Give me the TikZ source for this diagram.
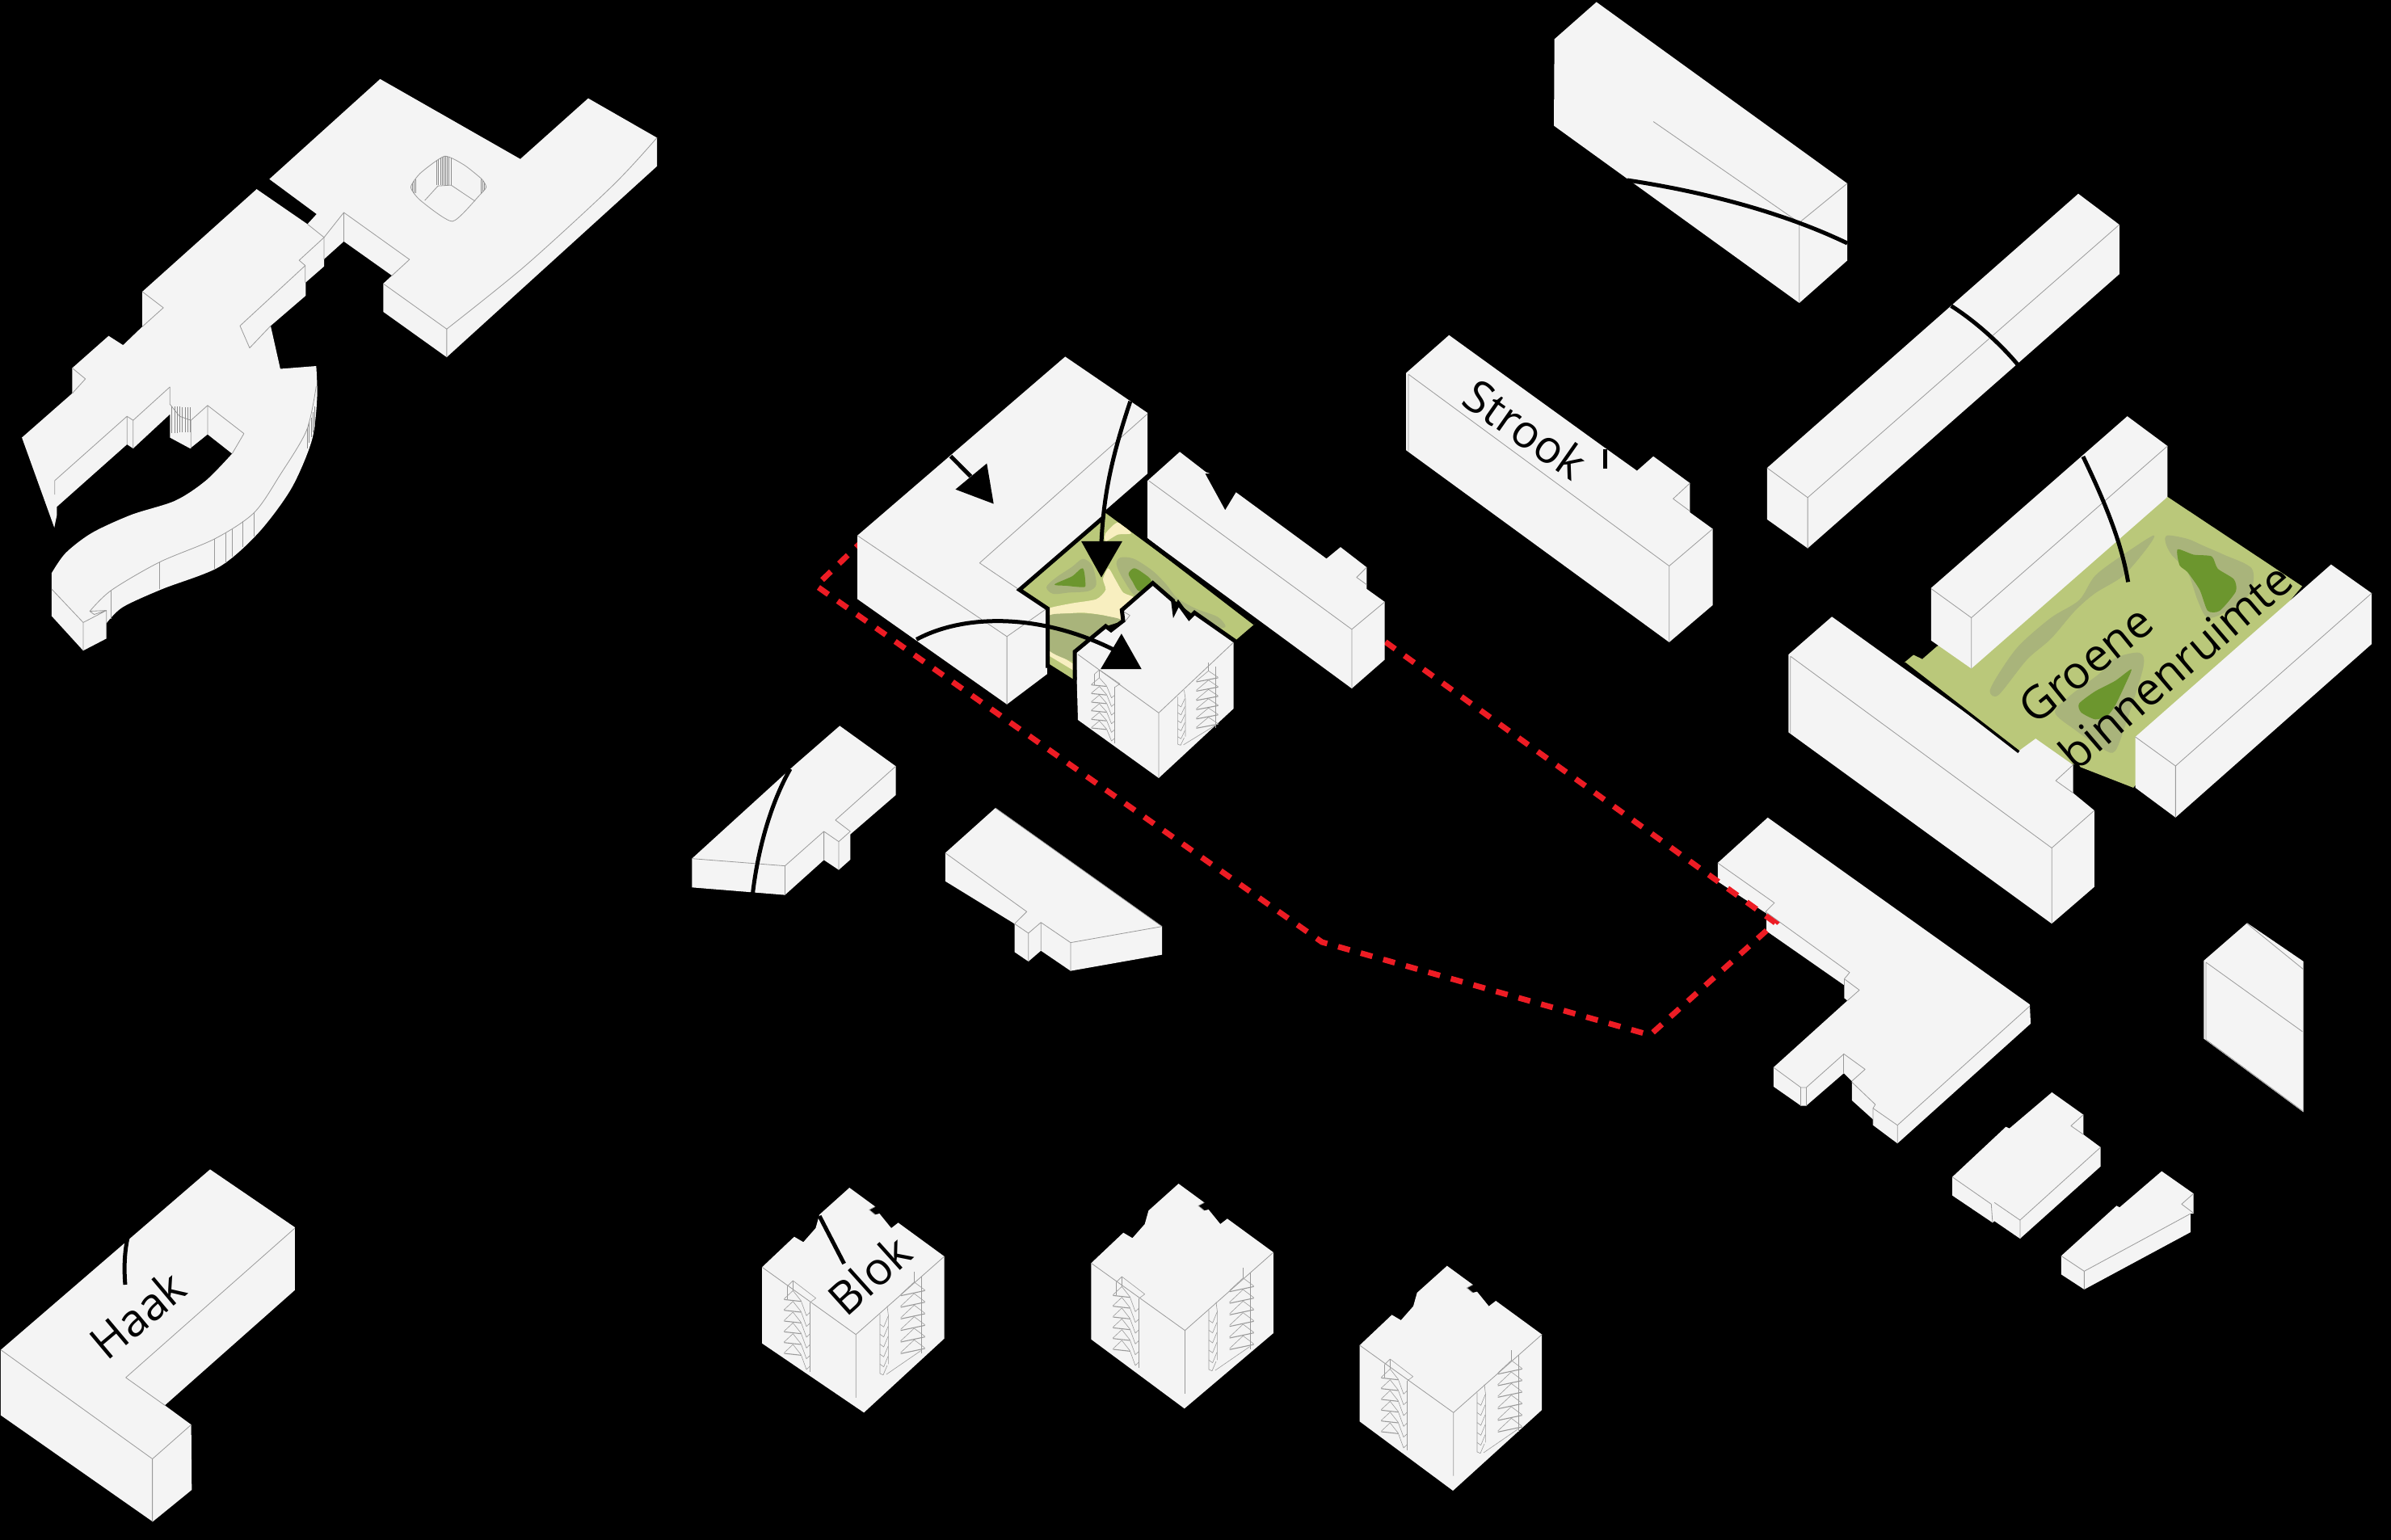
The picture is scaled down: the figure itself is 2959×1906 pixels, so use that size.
\documentclass[tikz,border=0pt]{standalone}
\usepackage{fontspec}
\setmainfont{Open Sans}
\definecolor{bfill}{HTML}{F4F4F4}
\definecolor{lgray}{HTML}{9A9A9A}
\definecolor{gbase}{HTML}{BAC87A}
\definecolor{gmid}{HTML}{A9B47B}
\definecolor{gdark}{HTML}{6C962E}
\definecolor{gcream}{HTML}{F8EFC0}
\definecolor{rdash}{HTML}{ED1C24}
\tikzset{
  bld/.style={fill=bfill,draw=none},
  ln/.style={draw=lgray,line width=0.8pt,line join=round},
  sln/.style={draw=lgray,line width=0.6pt,line join=round},
  dl/.style={draw=black!45,line width=0.4pt},
  thick black/.style={draw=black,line width=5pt,line join=miter},
  callout/.style={draw=black,line width=5pt},
  arrowtri/.style={fill=black,draw=none},
  lbl/.style={font=\fontsize{56}{56}\selectfont,text=black,inner sep=0pt},
  z1/.style={shift={(0,60)},xscale=.542,yscale=.4975},
  z2/.style={shift={(980,420)},xscale=.4974,yscale=.3571},
  z3/.style={shift={(2180,500)},xscale=.4974,yscale=.4337},
  z4/.style={shift={(900,1440)},xscale=.6633,yscale=.3333},
  z5/.style={shift={(1680,0)},xscale=.6122,yscale=.5102},
  z6/.style={shift={(2100,1000)},xscale=.5478,yscale=.3954},
  z7/.style={shift={(840,880)},xscale=.4082,yscale=.3333},
  z8/.style={shift={(0,1420)},scale=.3333},
  z11/.style={shift={(1240,640)},scale=.3333},
}
% stair details, in coordinates of a 3x crop
\newcommand{\stairset}{%
  \draw[sln] (65,80)--(85,60)--(170,125)--(150,140);
  \draw[sln] (65,80)--(65,130) (85,60)--(85,97) (148,140)--(148,400);
  \foreach \k in {0,...,5}{
    \draw[sln] (52,128+40*\k)--(85,97+40*\k)--(115,135+40*\k);
    \draw[ln,line width=1.1pt] (52,130+40*\k)--(115,137+40*\k);
    \draw[sln] (115,135+40*\k)--(135,190+40*\k)--(148,178+40*\k);
  }
  \draw[sln] (535,28)--(535,65) (563,45)--(563,330);
  \foreach \k in {0,...,5}{
    \draw[sln] (485,112+43*\k)--(535,65+43*\k)--(575,95+43*\k);
    \draw[ln,line width=1.1pt] (485,116+43*\k)--(575,97+43*\k);
  }
  \draw[sln] (435,155)--(440,195)--(440,370) (408,185)--(408,405)--(420,410)--(435,375) (432,408)--(560,320);
  \foreach \k in {0,...,4}{
    \draw[sln] (408,222+37*\k)--(422,232+37*\k)--(438,193+37*\k);
  }
}
% a "blok" building, in coordinates of zoom 4
\newcommand{\blokbody}[2]{%
  \fill[bld] (228,90)--(276,160)--(265,172)--(276,190)--(284,186)--(306,240)--(319,220)--(405,345)--(405,#2)--(#1,925)--(65,668)--(65,385)--(125,272)--(142,292)--(165,240)--(172,190)--cycle;
  \draw[ln] (65,385)--(240,635)--(240,870) (240,635)--(405,345);
  \draw[ln] (276,160)--(265,172)--(276,190);
}
\begin{document}
\begin{tikzpicture}[x=1pt,y=-1pt]
\fill[black] (0,0) rectangle (2959,1906);
\useasboundingbox (0,0) rectangle (2959,1906);

% --- building at bottom right of the red line, under the red line
\begin{scope}[z6]
  \fill[bld] (160,30)--(752,615)--(754,675)--(453,1050)--(398,993)--(398,975)--(350,915)--(350,855)--(332,830)--(247,932)--(235,932)--(173,872)--(173,812)--(340,603)--(333,595)--(333,555)--(157,385)--(157,330)--(47,230)--(47,172)--cycle;
  \draw[ln] (47,172)--(175,297)--(155,325)--(345,515)--(333,535)--(367,570)--(340,603);
  \draw[ln] (173,812)--(235,875)--(247,875)--(332,770)--(380,818)--(350,855);
  \draw[ln] (332,770)--(332,830) (235,875)--(235,932) (247,875)--(247,932);
  \draw[ln] (350,858)--(403,928)--(398,940)--(453,993)--(453,1050);
  \draw[ln] (453,993)--(752,620) (398,940)--(398,993) (333,535)--(333,595);
\end{scope}

% --- red dashed boundary
\coordinate (ra) at (1070,667);
\coordinate (rb) at (1010,725);
\coordinate (rc) at (1636,1166);
\coordinate (rd) at (2042,1281);
\coordinate (re) at (2197,1142);
\coordinate (rf) at (1700,784);
\draw[draw=rdash,line width=7pt,dash pattern=on 15pt off 14pt] (ra)--(rb)--(rc)--(rd)--(re)--(rf);

% --- top-left complex
\begin{scope}[z1]
  \fill[bld] (868,76)--(1188,275)--(1343,124)--(1500,222)--(1500,293)--(1020,768)--(875,655)--(875,585)--(895,565)--(785,480)--(740,524)--(740,542)--(698,582)--(698,615)--(618,690)--(640,797)--(722,790)
    -- plot[smooth] coordinates {(722,790)(724,870)(712,975)(665,1095)(590,1205)(500,1290)(370,1345)(280,1390)(243,1430)}
    --(243,1468)--(190,1498)--(118,1412)--(118,1305)
    -- plot[smooth] coordinates {(118,1305)(150,1255)(210,1205)(300,1160)(400,1125)(470,1075)(530,1008)}
    --(474,960)--(434,995)--(388,968)--(388,910)--(304,995)--(290,985)--(130,1140)--(130,1160)--(124,1192)--(50,968)--(165,858)--(165,795)--(248,715)--(281,738)--(325,692)--(325,605)--(586,350)--(702,437)--(723,412)--(615,325)--cycle;
  \draw[ln] (875,585)--(1020,698)--(1020,768);
  \draw[ln] plot[smooth] coordinates {(1020,698)(1200,540)(1400,340)(1500,222)};
  \draw[ln] (740,470)--(785,408)--(935,525)--(895,565) (785,408)--(785,480) (740,470)--(740,525);
  \draw[ln] (702,437)--(740,470)--(683,527)--(697,540)--(548,690)--(570,745)--(618,690) (697,540)--(697,582);
  \draw[ln] (325,605)--(373,645)--(325,692) (165,795)--(195,822)--(165,858);
  \draw[ln] (388,842)--(304,925)--(290,915)--(125,1075)--(125,1110) (290,915)--(290,985) (304,925)--(304,995);
  \draw[ln] (388,842)--(388,885)--(410,915)--(436,925)--(474,888)--(557,958)--(530,1008) (474,888)--(474,960) (436,925)--(436,995);
  \foreach \hx in {392,398,...,434}{\draw[dl] (\hx,888+\hx/14-26)--(\hx,985-\hx/14);}
  \draw[ln] plot[smooth] coordinates {(722,840)(700,950)(640,1060)(580,1155)(490,1220)(364,1278)(254,1348)(205,1400)};
  \draw[ln] (254,1348)--(254,1420) (364,1278)--(364,1345) (490,1220)--(490,1295) (515,1205)--(515,1280) (530,1195)--(530,1265) (555,1175)--(555,1240) (580,1155)--(580,1215);
  \foreach \hx in {702,706,...,718}{\draw[dl] (\hx,{945-(\hx-702)*3.4})--(\hx,{995-(\hx-702)*3.4});}
  \draw[ln] (118,1345)--(190,1428)--(190,1498) (190,1428)--(243,1398)--(205,1400)--(215,1408)--(243,1398)--(243,1468);
  \draw[ln] plot[smooth cycle,tension=.35] coordinates {(1015,268)(1060,290)(1100,325)(1110,345)(1095,365)(1033,430)(960,378)(938,345)(960,310)};
  \begin{scope}
    \clip plot[smooth cycle,tension=.35] coordinates {(1015,268)(1060,290)(1100,325)(1110,345)(1095,365)(1033,430)(960,378)(938,345)(960,310)};
    \foreach \hx in {997,1001,...,1030}{\draw[dl] (\hx,262)--(\hx,340);}
    \foreach \hx in {1098,1102,1106}{\draw[dl] (\hx,325)--(\hx,360);}
    \foreach \hx in {941,945,949}{\draw[dl] (\hx,325)--(\hx,360);}
  \end{scope}
  \draw[ln] (970,378)--(1000,342)--(1030,340)--(1085,380);
\end{scope}

% --- central green court
\begin{scope}[z11]
  \begin{scope}
    \clip (385,-15)--(940,395)--(870,455)--(700,355)--(560,245)--(445,345)--(450,385)--(385,405)--(270,505)--(270,605)--(175,545)--(170,335)--(65,270)--cycle;
    \fill[gbase] (0,-20) rectangle (1000,620);
    \fill[gcream] plot[smooth cycle,tension=.4] coordinates {(430,20)(480,60)(430,65)(385,90)(385,60)};
    \fill[gcream] plot[smooth cycle,tension=.4] coordinates {(170,340)(260,320)(350,305)(385,270)(375,230)(395,190)(420,230)(450,280)(490,300)(445,345)(445,385)(380,365)(300,355)(220,360)(170,372)};
    \fill[gcream] (170,487)--(270,548)--(270,572)--(170,512)--cycle;
    \fill[gmid] plot[smooth cycle,tension=.5] coordinates {(165,260)(200,225)(260,185)(300,155)(335,180)(350,250)(320,275)(250,280)(190,285)};
    \fill[gmid] plot[smooth cycle,tension=.5] coordinates {(425,175)(440,150)(490,155)(560,200)(610,250)(650,300)(720,340)(800,370)(830,405)(800,410)(700,365)(560,250)(500,295)(450,230)};
    \fill[gmid] plot[smooth cycle,tension=.4] coordinates {(170,370)(250,358)(340,360)(440,380)(385,410)(320,450)(275,500)(265,535)(170,490)};
    \fill[gdark] plot[smooth cycle,tension=.5] coordinates {(195,250)(260,220)(300,190)(310,250)(300,260)(240,255)};
    \fill[gdark] plot[smooth cycle,tension=.5] coordinates {(470,210)(490,190)(520,205)(555,238)(510,275)(485,240)};
  \end{scope}
\end{scope}

% --- large L building
\begin{scope}[z2]
  \fill[bld] (680,60)--(885,255)--(885,465)--(782,590)--(775,610)--(568,870)--(635,935)--(635,1160)--(535,1265)--(163,900)--(163,680)--cycle;
  \draw[ln] (163,680)--(535,1030)--(535,1265) (535,1030)--(632,935);
  \draw[ln] (885,258)--(467,775)--(568,870);
  % right building
  \fill[bld] (965,390)--(1030,460)--(1040,465)--(1028,465)--(1078,592)--(1105,530)--(1330,760)--(1365,720)--(1430,790)--(1430,865)--(1475,910)--(1475,1110)--(1393,1210)--(885,690)--(885,490)--cycle;
  \draw[ln] (888,490)--(1393,1005)--(1393,1210) (1393,1005)--(1475,910) (1430,790)--(1405,825)--(1430,850);
\end{scope}

% --- small block on the court
\begin{scope}[z11]
  \fill[bld] (275,505)--(385,412)--(405,425)--(455,390)--(450,350)--(560,252)--(635,315)--(645,350)--(655,325)--(695,380)--(715,360)--(860,465)--(860,711)--(582,969)--(282,753)--cycle;
  \draw[ln] (282,510)--(582,727)--(582,969) (582,727)--(860,465) (450,350)--(475,365)--(455,390) (630,320)--(645,335);
  \draw[thick black] (378,0)--(65,270)--(170,340)--(170,560);
  \draw[thick black] (530,80)--(940,395);
  \draw[thick black] (270,605)--(270,500)--(385,405)--(405,420)--(450,385)--(445,345)--(560,245)--(635,310)--(640,350)--(655,320)--(695,375)--(715,355)--(865,460);
\end{scope}
\begin{scope}[shift={(1335,813)},xscale=.3,yscale=.2667]
  \stairset
\end{scope}

% --- central arrows
\begin{scope}[z2]
  \coordinate (a1s) at (395,405);
  \coordinate (a1e) at (445,475);
  \draw[callout] (a1s)--(a1e);
  \fill[arrowtri] (485,430)--(502,570)--(407,520)--cycle;
  \coordinate (a2s) at (842,215);
  \coordinate (a2e) at (770,705);
  \draw[callout] (a2s) .. controls (790,430) and (775,560) .. (a2e);
  \fill[arrowtri] (720,700)--(822,700)--(770,825)--cycle;
  \coordinate (a3s) at (310,1040);
  \coordinate (a3e) at (800,1075);
  \draw[callout] (a3s) .. controls (430,950) and (620,950) .. (a3e);
  \fill[arrowtri] (820,1020)--(870,1143)--(768,1143)--cycle;
\end{scope}

% --- top right buildings
\begin{scope}[z5]
  \fill[bld] (483,5)--(990,445)--(990,632)--(893,735)--(397,305)--(398,95)--cycle;
  \draw[ln] (990,445)--(893,540)--(893,735) (893,540)--(598,295);
  \coordinate (c1s) at (545,437);
  \coordinate (c1e) at (990,590);
  \draw[callout] (c1s) .. controls (700,465) and (860,515) .. (c1e);
  \fill[bld] (1457,470)--(1540,545)--(1540,665)--(910,1330)--(828,1260)--(828,1135)--cycle;
  \draw[ln] (828,1135)--(910,1207)--(910,1330) (910,1207)--(1540,545);
  \coordinate (c2s) at (1200,742);
  \coordinate (c2e) at (1335,885);
  \draw[callout] (c2s) .. controls (1250,780) and (1300,835) .. (c2e);
  \fill[bld] (185,813)--(495,1082)--(565,1142)--(598,1107)--(672,1172)--(672,1243)--(718,1283)--(718,1468)--(630,1558)--(98,1092)--(98,905)--cycle;
  \draw[ln] (103,908)--(630,1373)--(630,1558) (630,1373)--(718,1283) (672,1172)--(638,1210)--(672,1240) (103,908)--(103,1095);
  \coordinate (c3s) at (500,1090);
  \coordinate (c3e) at (500,1137);
  \draw[callout] (c3s)--(c3e);
\end{scope}

% --- green inner space, right
\begin{scope}[z3]
  \begin{scope}
    \clip (355,738)--(378,716)--(400,728)--(435,693)--(1010,265)--(1345,520)--(925,1095)--(775,1028)--(640,990)--cycle;
    \fill[gbase] (300,200) rectangle (1400,1150);
    \fill[gmid] plot[smooth cycle,tension=.5] coordinates {(975,375)(960,410)(900,490)(830,540)(780,590)(720,670)(660,730)(590,830)(568,820)(590,770)(640,690)(720,610)(790,560)(830,490)(900,430)};
    \fill[gmid] plot[smooth cycle,tension=.5] coordinates {(1010,375)(1060,385)(1100,405)(1150,430)(1220,470)(1215,540)(1160,590)(1110,610)(1085,560)(1060,480)(1020,430)(1005,395)};
    \fill[gdark] plot[smooth cycle,tension=.4] coordinates {(1035,415)(1075,430)(1120,435)(1135,470)(1175,500)(1180,535)(1140,590)(1110,590)(1090,530)(1060,480)(1040,460)};
    \fill[gmid] plot[smooth cycle,tension=.5] coordinates {(880,725)(940,710)(950,750)(910,900)(880,990)(850,985)(780,930)(730,880)(770,830)(840,770)};
    \fill[gdark] plot[smooth cycle,tension=.4] coordinates {(920,757)(905,800)(880,860)(860,890)(830,900)(795,880)(790,855)(830,820)(880,790)};
  \end{scope}
  \fill[bld] (910,35)--(1010,120)--(1010,265)--(522,755)--(422,675)--(422,525)--cycle;
  \draw[ln] (422,527)--(522,610)--(522,755) (522,610)--(1010,120);
  \fill[bld] (1417,458)--(1518,540)--(1518,685)--(1030,1180)--(930,1095)--(930,950)--cycle;
  \draw[ln] (930,950)--(1030,1033)--(1030,1180) (1030,1033)--(1518,540);
  \fill[bld] (175,607)--(640,990)--(682,955)--(775,1030)--(775,1110)--(828,1160)--(828,1378)--(722,1483)--(67,937)--(67,715)--cycle;
  \draw[ln] (72,720)--(722,1267)--(722,1483) (722,1267)--(828,1160) (775,1030)--(732,1075)--(775,1110) (72,720)--(72,940);
  \draw[thick black,line width=3.5pt] (355,740)--(640,993);
  \coordinate (c4s) at (800,150);
  \coordinate (c4e) at (912,508);
  \draw[callout] (c4s) .. controls (850,270) and (895,390) .. (c4e);
\end{scope}

% --- right side small buildings
\begin{scope}[z6]
  \fill[bld] (802,890)--(873,960)--(873,1022)--(912,1062)--(912,1122)--(730,1348)--(672,1293)--(668,1298)--(577,1213)--(577,1155)--(698,998)--(706,1003)--cycle;
  \draw[ln] (577,1155)--(665,1240)--(668,1298) (672,1235)--(730,1290)--(730,1348) (730,1290)--(912,1062) (873,960)--(845,995)--(873,1022);
  \fill[bld] (1050,1137)--(1122,1207)--(1122,1270)--(1115,1270)--(1115,1328)--(875,1507)--(823,1460)--(823,1402)--(948,1245)--(955,1250)--cycle;
  \draw[ln] (823,1402)--(875,1450)--(875,1507) (875,1450)--(1115,1270) (1122,1207)--(1095,1240)--(1122,1268);
  \fill[bld] (1243,360)--(1370,480)--(1370,952)--(1145,722)--(1145,478)--cycle;
  \draw[ln] (1150,483)--(1368,700) (1243,362)--(1370,505) (1150,483)--(1150,725)--(1368,948) (1145,722)--(1145,478);
\end{scope}

% --- lower middle buildings
\begin{scope}[z7]
  \fill[bld] (488,55)--(658,205)--(658,312)--(520,458)--(520,552)--(485,590)--(440,553)--(322,683)--(40,655)--(40,548)--(352,200)--cycle;
  \draw[ln] (40,548)--(322,575)--(322,683) (322,575)--(440,447)--(440,553) (440,447)--(485,485)--(485,590) (485,485)--(520,447)--(475,405)--(658,205);
  \coordinate (c5s) at (338,215);
  \coordinate (c5e) at (224,680);
  \draw[callout] (c5s) .. controls (280,340) and (240,510) .. (c5e);
  \fill[bld] (960,360)--(1465,800)--(1465,905)--(1188,965)--(1098,890)--(1060,930)--(1018,895)--(1018,790)--(808,632)--(808,527)--cycle;
  \draw[ln] (808,527)--(1055,745)--(1018,790)--(1060,825)--(1060,930) (1060,825)--(1098,785)--(1098,890) (1098,785)--(1188,860)--(1188,965) (1188,860)--(1465,800);
  \draw[ln] (960,360)--(1465,800);
\end{scope}

% --- Haak
\begin{scope}[z8]
  \fill[bld] (780,82)--(1095,297)--(1095,530)--(612,958)--(710,1030)--(712,1272)--(567,1390)--(3,995)--(3,752)--cycle;
  \draw[ln] (3,752)--(566,1157)--(566,1390) (566,1157)--(710,1030) (1095,300)--(467,855)--(612,958);
  \coordinate (c6s) at (474,335);
  \coordinate (c6e) at (465,510);
  \draw[callout] (c6s) .. controls (462,390) and (460,450) .. (c6e);
\end{scope}

% --- Blok buildings
\begin{scope}[z4]
  \blokbody{255}{650}
  \coordinate (c7s) at (172,195);
  \coordinate (c7e) at (218,372);
  \draw[callout] (c7s)--(c7e);
\end{scope}
\begin{scope}[z4]
  \begin{scope}[shift={(614,-15)}]\blokbody{239}{645}\end{scope}
  \begin{scope}[shift={(1115,290)}]\blokbody{239}{625}\end{scope}
\end{scope}
\begin{scope}[shift={(953,1565)},scale=.3333]\stairset\end{scope}
\begin{scope}[shift={(1360,1560)},scale=.3333]\stairset\end{scope}
\begin{scope}[shift={(1692,1662)},scale=.3333]\stairset\end{scope}

% --- labels
\node[lbl,rotate=-35] (tstrook) at (1888,531) {Strook};
\node[lbl,rotate=39] (tgroene) at (2581,822) {Groene};
\node[lbl,rotate=40.5] (tbinnen) at (2692,824) {binnenruimte};
\node[lbl,rotate=40] (thaak) at (170,1627) {Haak};
\node[lbl,rotate=42] (tblok) at (1076,1578) {Blok};
\end{tikzpicture}
\end{document}
